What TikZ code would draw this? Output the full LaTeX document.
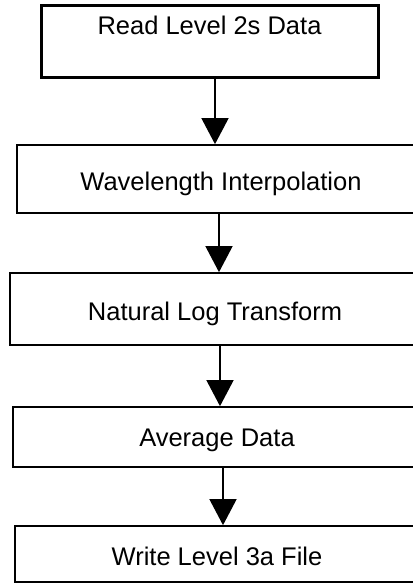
\documentclass[tikz,border=0pt]{standalone}
\usepackage{fontspec}
\setmainfont{Liberation Sans}
\usetikzlibrary{arrows.meta}

\tikzset{
  stepbox/.style={draw, line width=0.85pt, inner sep=0pt, font=\fontsize{12.75}{14}\selectfont},
  flow/.style={line width=0.75pt, -{Triangle[width=13.5pt,length=13pt]}}
}

\begin{document}
\begin{tikzpicture}[x=0.5pt,y=-0.5pt]
        \useasboundingbox (0,0) rectangle (412,583);
        % boxes run out past the right edge, as in the cropped original
        \node[stepbox, line width=1.5pt, minimum width=337*0.5pt, text height=14.5pt, text depth=21.5pt] (read) at (209.5,42) {Read Level 2s Data};
        \node[stepbox, minimum width=408*0.5pt, text height=22.5pt, text depth=11.5pt] (wave) at (221,179) {Wavelength Interpolation};
        \node[stepbox, minimum width=410*0.5pt, text height=23.5pt, text depth=12.5pt] (logt) at (215,309) {Natural Log Transform};
        \node[stepbox, minimum width=408*0.5pt, text height=19.5pt, text depth=10.5pt] (avg) at (217,437) {Average Data};
        \node[stepbox, minimum width=404*0.5pt, text height=19.5pt, text depth=8.5pt] (write) at (217,554) {Write Level 3a File};
        \draw[flow] ([xshift=2.75pt]read.south) -- ([xshift=2.75pt]read.south |- wave.north);
        \draw[flow] ([xshift=-1pt]wave.south) -- ([xshift=-1pt]wave.south |- logt.north);
        \draw[flow] ([xshift=2.5pt]logt.south) -- ([xshift=2.5pt]logt.south |- avg.north);
        \draw[flow] ([xshift=3pt]avg.south) -- ([xshift=3pt]avg.south |- write.north);
\end{tikzpicture}
\end{document}
